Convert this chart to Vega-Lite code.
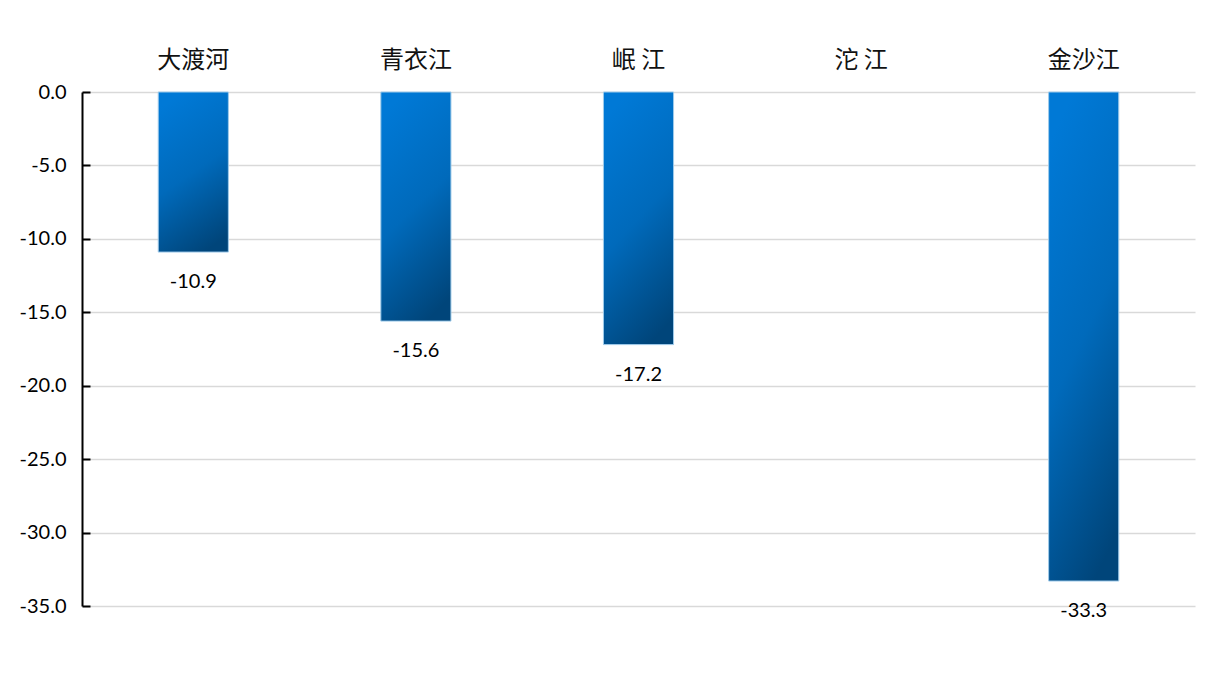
{
  "$schema": "https://vega.github.io/schema/vega-lite/v6.json",
  "width": 1113,
  "height": 514,
  "autosize": "none",
  "padding": {"left": 82, "top": 92, "right": 20, "bottom": 67},
  "background": "white",
  "config": {
    "view": {"stroke": null},
    "locale": {
      "number": {
        "decimal": ".",
        "thousands": ",",
        "grouping": [3],
        "currency": ["", ""],
        "minus": "-"
      }
    }
  },
  "data": {
    "values": [
      {"river": "大渡河", "value": -10.9},
      {"river": "青衣江", "value": -15.6},
      {"river": "岷 江", "value": -17.2},
      {"river": "沱 江", "value": null},
      {"river": "金沙江", "value": -33.3}
    ]
  },
  "encoding": {
    "x": {
      "field": "river",
      "type": "nominal",
      "sort": null,
      "title": null,
      "scale": {
        "domain": ["大渡河", "青衣江", "岷 江", "沱 江", "金沙江"],
        "paddingInner": 0.685,
        "paddingOuter": 0.3425
      },
      "axis": {
        "orient": "top",
        "domain": false,
        "ticks": false,
        "labelAngle": 0,
        "labelFont": "Noto Sans CJK SC",
        "labelFontSize": 24,
        "labelColor": "#111111",
        "labelPadding": 20
      }
    },
    "y": {
      "field": "value",
      "type": "quantitative",
      "title": null,
      "scale": {"domain": [-35, 0], "nice": false, "zero": false},
      "axis": {
        "values": [0, -5, -10, -15, -20, -25, -30, -35],
        "format": ".1f",
        "domainColor": "#000000",
        "domainWidth": 2,
        "tickColor": "#000000",
        "tickWidth": 2,
        "tickSize": -8,
        "grid": true,
        "gridColor": "#d9d9d9",
        "gridWidth": 1.5,
        "labelFont": "Lato",
        "labelFontSize": 20,
        "labelColor": "#000000",
        "labelPadding": 24
      }
    }
  },
  "layer": [
    {
      "mark": {
        "type": "bar",
        "stroke": "#9fcbea",
        "strokeWidth": 1,
        "color": {
          "gradient": "linear",
          "x1": 0.35,
          "y1": 0,
          "x2": 0.65,
          "y2": 1,
          "stops": [
            {"offset": 0, "color": "#0079d6"},
            {"offset": 0.5, "color": "#006abb"},
            {"offset": 1, "color": "#00457a"}
          ]
        }
      }
    },
    {
      "transform": [{"filter": "datum.value != null"}],
      "mark": {
        "type": "text",
        "dy": 30,
        "font": "Lato",
        "fontSize": 20,
        "color": "#000000",
        "baseline": "middle"
      },
      "encoding": {
        "text": {"field": "value", "type": "quantitative", "format": ".1f"}
      }
    }
  ]
}
